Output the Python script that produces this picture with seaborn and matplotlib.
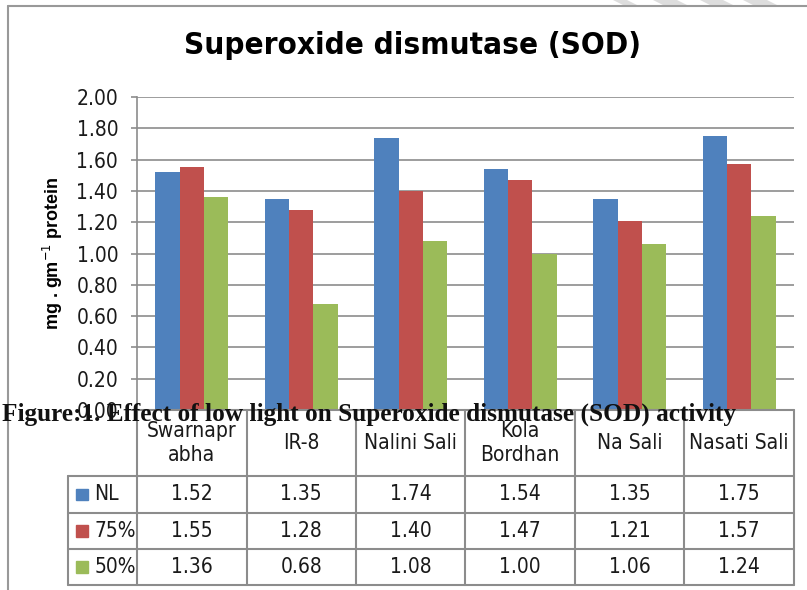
import matplotlib
matplotlib.use("Agg")
import matplotlib.pyplot as plt
import matplotlib.patches as mpatches
from matplotlib.lines import Line2D
import seaborn as sns
import pandas as pd

categories = ["Swarnaprabha", "IR-8", "Nalini Sali", "Kola Bordhan", "Na Sali", "Nasati Sali"]
header_labels = ["Swarnapr\nabha", "IR-8", "Nalini Sali", "Kola\nBordhan", "Na Sali", "Nasati Sali"]
series_names = ["NL", "75%", "50%"]
nl = [1.52, 1.35, 1.74, 1.54, 1.35, 1.75]
p75 = [1.55, 1.28, 1.40, 1.47, 1.21, 1.57]
p50 = [1.36, 0.68, 1.08, 1.00, 1.06, 1.24]
yticks = [0.0, 0.2, 0.4, 0.6, 0.8, 1.0, 1.2, 1.4, 1.6, 1.8, 2.0]
colors = ["#4F81BD", "#C0504D", "#9BBB59"]

series_vals = [nl, p75, p50]
df = pd.DataFrame({
    "cat": categories * 3,
    "series": sum([[s] * len(categories) for s in series_names], []),
    "val": nl + p75 + p50,
})

sns.set_theme(style="white")
plt.rcParams["font.family"] = ["DejaVu Sans"]
plt.rcParams["font.stretch"] = "condensed"

TXT = "#1A1A1A"
W, H = 807, 590
fig = plt.figure(figsize=(W / 100, H / 100), dpi=100)
x0, x1, ytop, ybot = 137, 794, 97, 410
ax = fig.add_axes([x0 / W, 1 - ybot / H, (x1 - x0) / W, (ybot - ytop) / H])

sns.barplot(data=df, x="cat", y="val", hue="series", order=categories,
            hue_order=series_names, palette=colors, width=0.667, gap=0,
            saturation=1, ax=ax, legend=False, edgecolor="none")

ax.set_ylim(0, 2.0)
ax.set_xlim(-0.5, len(categories) - 0.5)
ax.set_yticks(yticks)
ax.set_yticklabels([f"{t:.2f}" for t in yticks], fontsize=15, color=TXT,
                   fontstretch="condensed")
ax.set_xticks([])
ax.set_xlabel("")
ax.set_ylabel("mg . gm$^{-1}$ protein", fontsize=13, fontweight="bold", color="black",
              family=["Liberation Sans", "DejaVu Sans"], labelpad=8)
ax.yaxis.grid(True, color="#8C8C8C", linewidth=1.2)
ax.set_axisbelow(True)
for s in ["top", "right", "bottom"]:
    ax.spines[s].set_visible(False)
ax.spines["left"].set_color("#8C8C8C")
ax.spines["left"].set_linewidth(1.2)
ax.tick_params(axis="y", length=4, color="#8C8C8C", width=1.2, pad=9.5, left=True)

# Title
fig.text(0.511, 1 - 46 / H, "Superoxide dismutase (SOD)", ha="center", va="center",
         fontsize=22.5, fontweight="bold", fontstretch="condensed", color="black")

# Data table drawn below the axis using the axis' x scale
tr = ax.get_xaxis_transform()
ph = ybot - ytop
def yf(px):
    return (ybot - px) / ph

row_edges = [410, 476, 513, 549, 585]
lc = "#8C8C8C"
n = len(categories)
leg_left = -0.5 + (68 - x0) / ((x1 - x0) / n)
for i, py in enumerate(row_edges):
    xs = (-0.5 if i == 0 else leg_left, n - 0.5)
    ax.add_line(Line2D(xs, [yf(py)] * 2, transform=tr, color=lc, lw=1.5, clip_on=False))
for k in range(n + 1):
    xv = k - 0.5
    ax.add_line(Line2D([xv, xv], [yf(410), yf(585)], transform=tr, color=lc, lw=1.5, clip_on=False))
ax.add_line(Line2D([leg_left, leg_left], [yf(476), yf(585)], transform=tr, color=lc, lw=1.5, clip_on=False))

for i, lab in enumerate(header_labels):
    ax.text(i, yf(443), lab, transform=tr, ha="center", va="center", fontsize=15,
            linespacing=1.25, color=TXT, clip_on=False, fontstretch="condensed")
for r, (name, vals, col) in enumerate(zip(series_names, series_vals, colors)):
    yc = yf((row_edges[r + 1] + row_edges[r + 2]) / 2)
    ax.add_patch(mpatches.Rectangle((leg_left + 0.07, yc - 0.018), 0.11, 0.036,
                                    transform=tr, color=col, clip_on=False))
    ax.text(leg_left + 0.24, yc, name, transform=tr, ha="left", va="center",
            fontsize=15, color=TXT, clip_on=False, fontstretch="condensed")
    for i, v in enumerate(vals):
        ax.text(i, yc, f"{v:.2f}", transform=tr, ha="center", va="center",
                fontsize=15, color=TXT, clip_on=False, fontstretch="condensed")

# Outer chart frame
fig.add_artist(Line2D([8 / W, 8 / W], [0, 1 - 6 / H], color="#999999", lw=1.5))
fig.add_artist(Line2D([8 / W, 1], [1 - 6 / H, 1 - 6 / H], color="#999999", lw=1.5))

# faint watermark strokes at the top right
for xa, xb in [(613, 627), (653, 677), (700, 723), (743, 767)]:
    fig.add_artist(mpatches.Polygon(
        [(xa / W, 1.0), ((xa + 12) / W, 1 - 6 / H), ((xb + 12) / W, 1 - 6 / H), (xb / W, 1.0)],
        closed=True, facecolor="#DDDDDD", edgecolor="none", transform=fig.transFigure))

# Caption overlapping the chart
fig.text(2 / W, 1 - 414 / H, "Figure:1. Effect of low light on Superoxide dismutase (SOD) activity",
         ha="left", va="center", fontsize=18.2, fontweight="bold",
         family=["Liberation Serif", "DejaVu Serif"], color="#111111", zorder=10)

fig.savefig("out.png", dpi=100)
